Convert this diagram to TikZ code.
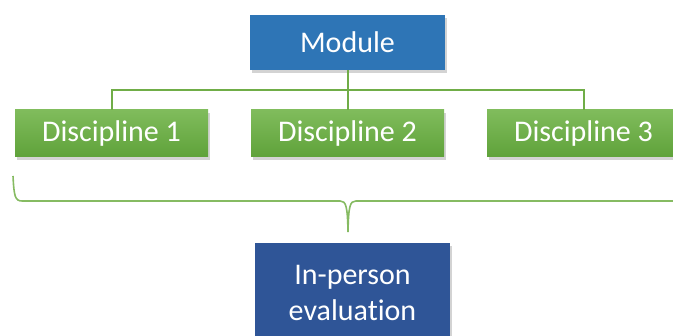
\documentclass[tikz,border=0pt]{standalone}
\usepackage{fontspec}
\setmainfont{Carlito}[Ligatures=NoCommon]
\usetikzlibrary{shadows}
\definecolor{modblue}{HTML}{2E75B6}
\definecolor{evalblue}{HTML}{2F5597}
\definecolor{discgreen}{HTML}{70AD47}
\definecolor{disctop}{HTML}{80BC5C}
\definecolor{discbot}{HTML}{5FA23A}
\definecolor{bracegreen}{HTML}{86BB62}
\begin{document}
\begin{tikzpicture}[x=1pt,y=-1pt,
  box/.style={rectangle, text=white, font=\fontsize{30}{36}\selectfont,
    inner sep=0pt, drop shadow={opacity=0.35, shadow xshift=2pt, shadow yshift=-3pt}},
  discbox/.style={box, top color=disctop, bottom color=discbot,
    minimum width=193pt, minimum height=47pt},
  link/.style={draw=discgreen, line width=2pt}]
\useasboundingbox (0,0) rectangle (673,336);
\clip (0,0) rectangle (673,336);
% top level
\node [box, fill=modblue, minimum width=195pt, minimum height=55pt] (mod) at (347.5,42.5) {Module};
% disciplines
\node [discbox] (d1) at (111.5,133.5) {Discipline 1};
\node [discbox] (d2) at (347.5,133.5) {Discipline 2};
\node [discbox] (d3) at (583.5,133.5) {Discipline 3};
\coordinate (bus) at (0,90);
\draw [link] (mod.south) -- (mod.south |- bus);
\draw [link] (d1.north) |- (d3.north |- bus) -- (d3.north);
\draw [link] (mod.south |- bus) -- (d2.north);
% brace
\coordinate (bl) at (13,176);
\coordinate (tip) at (348,232);
\coordinate (br) at (690,201);
\draw [bracegreen, line width=1.6pt]
  (bl) .. controls (14,196) and (15,201) .. (22,201) -- (340,201)
  .. controls (346,201) and (347.5,206) .. (tip)
  .. controls (348.5,206) and (350,201) .. (356,201) -- (br);
% evaluation
\node [box, fill=evalblue, minimum width=195pt, minimum height=100pt, align=center] (eval) at (352.5,293) {In-person\\evaluation};
\end{tikzpicture}
\end{document}
